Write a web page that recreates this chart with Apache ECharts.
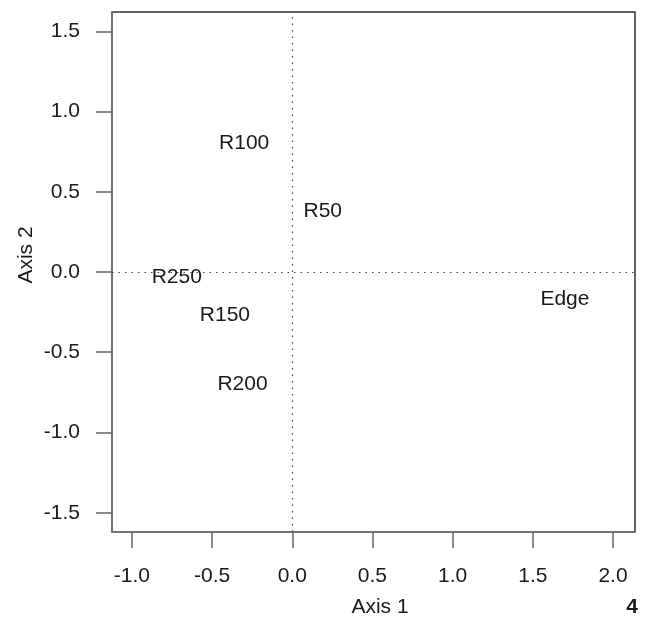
<!DOCTYPE html>
<html>
<head>
<meta charset="utf-8">
<script src="https://cdn.jsdelivr.net/npm/echarts@6/dist/echarts.min.js"></script>
<style>
  html, body { margin: 0; padding: 0; background: #fff; }
  #chart { width: 647px; height: 621px; }
</style>
</head>
<body>
<div id="chart"></div>
<script>
const sites = ['R100', 'R50', 'R250', 'R150', 'R200', 'Edge']
const axis1 = [-0.30, 0.19, -0.72, -0.42, -0.31, 1.70]
const axis2 = [0.80, 0.38, -0.03, -0.27, -0.70, -0.17]
const xTicks = [-1.0, -0.5, 0.0, 0.5, 1.0, 1.5, 2.0]
const yTicks = [-1.5, -1.0, -0.5, 0.0, 0.5, 1.0, 1.5]

const font = 'Liberation Sans, Arial, sans-serif'
const chart = echarts.init(document.getElementById('chart'))

const axisCommon = {
  type: 'value',
  splitLine: { show: false },
  axisLine: { show: true, onZero: false, lineStyle: { color: '#777', width: 1.5 } },
  axisTick: { show: true, length: 16, inside: false, lineStyle: { color: '#666', width: 1.5 } },
  axisLabel: { color: '#1a1a1a', fontSize: 21, fontFamily: font, formatter: v => v.toFixed(1) },
}

chart.setOption({
  animation: false,
  grid: {
    left: 112, right: 12, top: 12, bottom: 89,
    show: true, borderColor: '#333', borderWidth: 1.5,
  },
  xAxis: {
    ...axisCommon,
    min: -1.124, max: 2.137,
    axisTick: { ...axisCommon.axisTick, customValues: xTicks },
    axisLabel: { ...axisCommon.axisLabel, margin: 34, customValues: xTicks },
  },
  yAxis: {
    ...axisCommon,
    min: -1.62, max: 1.62,
    axisTick: { ...axisCommon.axisTick, customValues: yTicks },
    axisLabel: { ...axisCommon.axisLabel, margin: 32, customValues: yTicks },
  },
  series: [{
    type: 'scatter',
    symbolSize: 0,
    itemStyle: { opacity: 1 },
    data: sites.map((s, i) => ({ name: s, value: [axis1[i], axis2[i]] })),
    label: {
      show: true, position: 'inside', formatter: '{b}',
      color: '#1a1a1a', fontSize: 21, fontFamily: font,
    },
    markLine: {
      silent: true, symbol: 'none',
      label: { show: false },
      lineStyle: { type: [1.5, 5], color: '#444', width: 1.2 },
      data: [{ xAxis: 0 }, { yAxis: 0 }],
    },
  }],
  graphic: [
    { type: 'text', x: 380, y: 607, style: { text: 'Axis 1', font: '21px ' + font, fill: '#1a1a1a', align: 'center', verticalAlign: 'middle' } },
    { type: 'text', x: 26, y: 255, rotation: Math.PI / 2, style: { text: 'Axis 2', font: '21px ' + font, fill: '#1a1a1a', align: 'center', verticalAlign: 'middle' } },
    { type: 'text', x: 632, y: 607, style: { text: '4', font: 'bold 21px ' + font, fill: '#1a1a1a', align: 'center', verticalAlign: 'middle' } },
  ],
})
</script>
</body>
</html>
